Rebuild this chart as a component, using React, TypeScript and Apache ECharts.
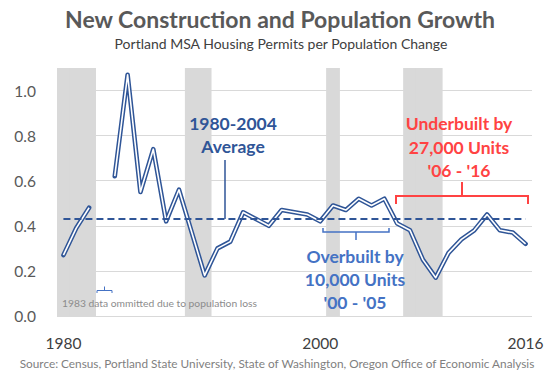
import React, { useEffect, useRef } from "react";
import * as echarts from "echarts";

const years = [
  "1980", "1981", "1982", "1983", "1984", "1985", "1986", "1987", "1988", "1989",
  "1990", "1991", "1992", "1993", "1994", "1995", "1996", "1997", "1998", "1999",
  "2000", "2001", "2002", "2003", "2004", "2005", "2006", "2007", "2008", "2009",
  "2010", "2011", "2012", "2013", "2014", "2015", "2016",
];

// Housing permits per population change (1983 omitted)
const permitsPerPop = [
  0.27, 0.39, 0.48, null, 0.62, 1.07, 0.55, 0.74, 0.42, 0.56,
  0.37, 0.18, 0.30, 0.33, 0.46, 0.43, 0.40, 0.47, 0.46, 0.45,
  0.42, 0.49, 0.47, 0.52, 0.49, 0.52, 0.41, 0.38, 0.25, 0.17,
  0.28, 0.34, 0.38, 0.45, 0.38, 0.37, 0.32,
];

// Recession years (shaded)
const recession = [
  1, 1, 1, 0, 0, 0, 0, 0, 0, 0,
  1, 1, 0, 0, 0, 0, 0, 0, 0, 0,
  0, 1, 0, 0, 0, 0, 0, 1, 1, 1,
  0, 0, 0, 0, 0, 0, 0,
];

const average19802004 = 0.43;
const yMax = 1.1;
const xTickLabels = ["1980", "2000", "2016"];

const FONT = "Lato, 'Noto Sans', sans-serif";

export default function App() {
  const ref = useRef<HTMLDivElement>(null);

  useEffect(() => {
    if (!ref.current) return;
    const chart = echarts.init(ref.current, null, { renderer: "svg" });

    const option: any = {
      animation: false,
      backgroundColor: "#ffffff",
      textStyle: { fontFamily: FONT },
      grid: { left: 57, right: 27, top: 68, bottom: 65, containLabel: false },
      xAxis: {
        type: "category",
        data: years,
        boundaryGap: true,
        axisLine: { show: false },
        axisTick: { show: false },
        splitLine: { show: false },
        axisLabel: {
          interval: (_i: number, v: string) => xTickLabels.includes(v),
          color: "#404040",
          fontSize: 15.5,
          fontFamily: FONT,
          margin: 19,
        },
      },
      yAxis: {
        type: "value",
        min: 0,
        max: yMax,
        interval: 0.2,
        axisLine: { show: false },
        axisTick: { show: false },
        axisLabel: {
          showMaxLabel: false,
          color: "#595959",
          fontSize: 15.5,
          fontFamily: FONT,
          margin: 21,
          formatter: (v: number) => (Math.abs(v - yMax) < 1e-6 ? "" : v.toFixed(1)),
        },
        splitLine: {
          show: true,
          showMaxLine: false,
          lineStyle: { color: "#d9d9d9", width: 1 },
        },
      },
      series: [
        {
          type: "bar",
          data: recession.map((r) => (r ? yMax : null)),
          barWidth: 13.8,
          itemStyle: { color: "#d9d9d9" },
          silent: true,
          z: 1,
        },
        {
          type: "line",
          data: permitsPerPop,
          symbol: "none",
          connectNulls: false,
          lineStyle: { color: "#2f5597", width: 4.6, cap: "round", join: "round" },
          z: 3,
          markLine: {
            silent: true,
            symbol: "none",
            label: { show: false },
            lineStyle: { color: "#2f5597", width: 2, type: [7, 4] },
            data: [
              [
                { coord: [years[0], average19802004] },
                { coord: [years[years.length - 1], average19802004] },
              ],
            ],
          },
        },
        {
          type: "line",
          data: permitsPerPop,
          symbol: "none",
          connectNulls: false,
          lineStyle: { color: "#ffffff", width: 1.6, cap: "butt", join: "round" },
          z: 4,
        },
      ],
      graphic: [
        {
          type: "text",
          x: 280,
          y: 19,
          style: {
            text: "New Construction and Population Growth",
            fontFamily: FONT,
            fontWeight: "bold",
            fontSize: 23,
            fill: "#595959",
            align: "center",
            verticalAlign: "middle",
          },
        },
        {
          type: "text",
          x: 281,
          y: 43,
          style: {
            text: "Portland MSA Housing Permits per Population Change",
            fontFamily: FONT,
            fontSize: 14,
            fill: "#404040",
            align: "center",
            verticalAlign: "middle",
          },
        },
        {
          type: "text",
          x: 277,
          y: 363,
          style: {
            text: "Source: Census, Portland State University, State of Washington, Oregon Office of Economic Analysis",
            fontFamily: FONT,
            fontSize: 11.8,
            fill: "#7f7f7f",
            align: "center",
            verticalAlign: "middle",
          },
        },
        // Average annotation
        {
          type: "text",
          x: 233,
          y: 135,
          z: 10,
          style: {
            text: "1980-2004\nAverage",
            fontFamily: FONT,
            fontWeight: "bold",
            fontSize: 17.5,
            lineHeight: 23,
            fill: "#2f5597",
            align: "center",
            verticalAlign: "middle",
          },
        },
        {
          type: "line",
          z: 10,
          shape: { x1: 225, y1: 160, x2: 225, y2: 219 },
          style: { stroke: "#2f5597", lineWidth: 1.5 },
        },
        // Overbuilt annotation
        {
          type: "text",
          x: 355,
          y: 279,
          z: 10,
          style: {
            text: "Overbuilt by\n10,000 Units\n'00 - '05",
            fontFamily: FONT,
            fontWeight: "bold",
            fontSize: 17.5,
            lineHeight: 23,
            fill: "#4472c4",
            align: "center",
            verticalAlign: "middle",
          },
        },
        {
          type: "polyline",
          z: 10,
          shape: { points: [[323, 228], [323, 232], [389, 232], [389, 228]] },
          style: { stroke: "#4472c4", lineWidth: 1.5, fill: "none" },
        },
        {
          type: "line",
          z: 10,
          shape: { x1: 356, y1: 232, x2: 356, y2: 240 },
          style: { stroke: "#4472c4", lineWidth: 1.5 },
        },
        // Underbuilt annotation
        {
          type: "text",
          x: 459,
          y: 147,
          z: 10,
          style: {
            text: "Underbuilt by\n27,000 Units\n'06 - '16",
            fontFamily: FONT,
            fontWeight: "bold",
            fontSize: 17.5,
            lineHeight: 23.5,
            fill: "#ff4343",
            align: "center",
            verticalAlign: "middle",
          },
        },
        {
          type: "polyline",
          z: 10,
          shape: { points: [[396, 204], [396, 196], [528, 196], [528, 204]] },
          style: { stroke: "#ff4343", lineWidth: 2, fill: "none" },
        },
        {
          type: "line",
          z: 10,
          shape: { x1: 462, y1: 196, x2: 462, y2: 182 },
          style: { stroke: "#ff4343", lineWidth: 2 },
        },
        // 1983 note
        {
          type: "polyline",
          z: 10,
          shape: { points: [[97, 293], [97, 290.5], [112, 290.5], [112, 293]] },
          style: { stroke: "#4472c4", lineWidth: 1, fill: "none" },
        },
        {
          type: "line",
          z: 10,
          shape: { x1: 104.5, y1: 290.5, x2: 104.5, y2: 286.5 },
          style: { stroke: "#4472c4", lineWidth: 1 },
        },
        {
          type: "text",
          x: 62,
          y: 303,
          z: 10,
          style: {
            text: "1983 data ommitted due to population loss",
            fontFamily: FONT,
            fontSize: 10.3,
            fill: "#8c8c8c",
            align: "left",
            verticalAlign: "middle",
          },
        },
      ],
    };

    chart.setOption(option);
    return () => chart.dispose();
  }, []);

  return (
    <div
      ref={ref}
      style={{ position: "fixed", left: 0, top: 0, width: 559, height: 381, background: "#fff" }}
    />
  );
}
